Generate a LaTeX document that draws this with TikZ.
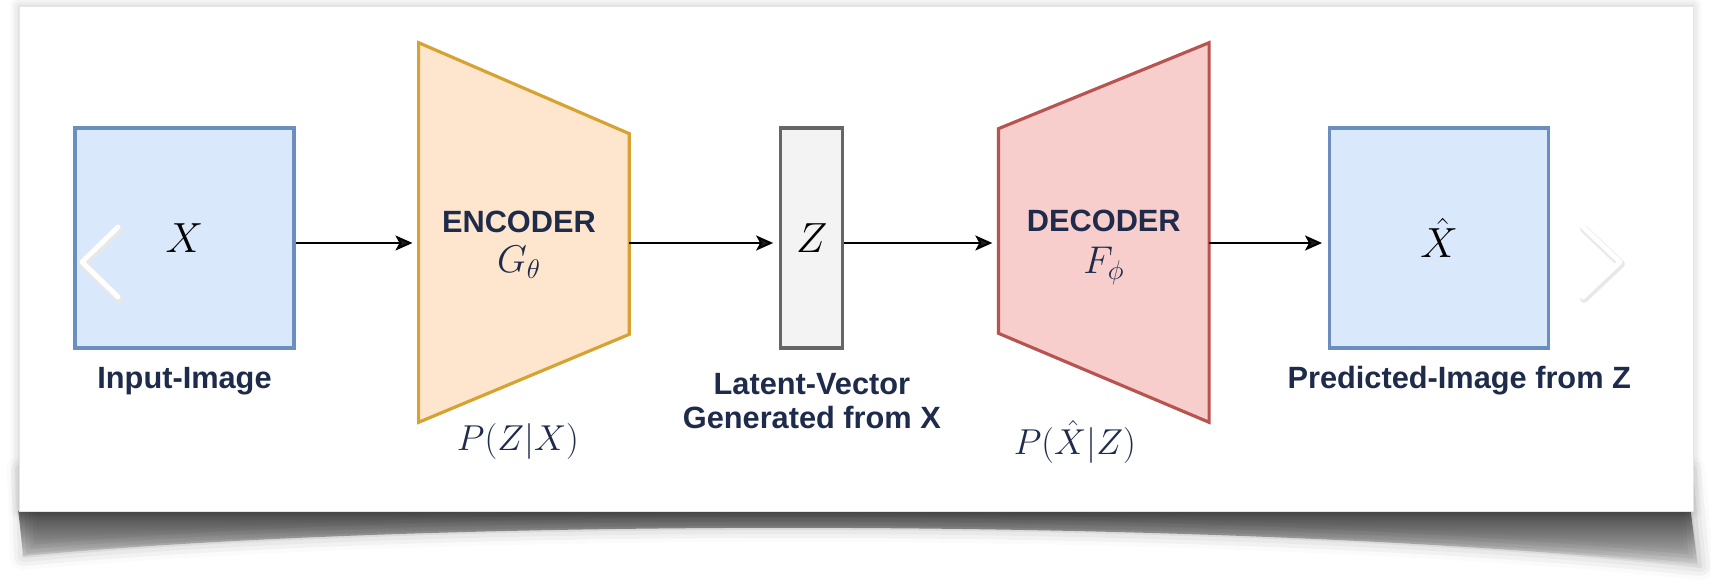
\RequirePackage{fix-cm}
\documentclass[tikz,border=0pt]{standalone}
\usepackage{fontspec}
\newfontfamily\labelfont{Liberation Sans}
\usepackage{tikz}
\usetikzlibrary{positioning}
\usetikzlibrary{arrows.meta,shadows.blur,fadings}

\definecolor{navy}{HTML}{1E2B4B}
\definecolor{imgline}{HTML}{6C8EBF}
\definecolor{imgfill}{HTML}{DAE8FC}
\definecolor{encline}{HTML}{D6A232}
\definecolor{encfill}{HTML}{FDE6CD}
\definecolor{decline}{HTML}{B85450}
\definecolor{decfill}{HTML}{F8CECC}
\definecolor{vecline}{HTML}{666666}
\definecolor{vecfill}{HTML}{F3F3F3}
\newcommand{\capfont}{\labelfont\bfseries\fontsize{17.5}{19.5}\selectfont}
\tikzfading[name=cardfade,top color=transparent!40,middle color=transparent!100,bottom color=transparent!100]

\begin{document}
\begin{tikzpicture}[x=0.02cm,y=-0.02cm,on grid,auto,
		>={Stealth[length=0.34cm,width=0.3cm,inset=0.08cm]},
		panel/.style={fill=white,draw=black!10,line width=0.4pt},
		imgbox/.style={draw=imgline,fill=imgfill,line width=1.8pt,minimum width=4.38cm,minimum height=4.4cm,font=\fontsize{24}{28}\selectfont},
		vecbox/.style={draw=vecline,fill=vecfill,line width=1.8pt,minimum width=1.24cm,minimum height=4.4cm,font=\fontsize{24}{28}\selectfont},
		coder/.style={rectangle,inner sep=0pt,minimum width=4.2cm,minimum height=7.58cm},
		coder_txt/.style={text=navy,align=center,font=\fontsize{22}{25}\selectfont},
		caption/.style={text=navy,align=center,font=\capfont},
		prob/.style={text=navy,font=\fontsize{20.5}{24}\selectfont},
		flow/.style={->,line width=1.1pt,shorten >=3.5pt},
		chev/.style={white,line width=2.8pt,line cap=round,line join=round},
		chev_shade/.style={black!9,line width=4.4pt,line cap=round,line join=round}]
		\useasboundingbox (0,0) rectangle (1711,587);
		
		% card and its shadow
		\path[blur shadow={shadow xshift=0pt,shadow yshift=0pt,shadow blur radius=8pt,shadow opacity=28}] (21,470) -- (1691,470) -- (1700,566) .. controls (1250,518) and (450,516) .. (24,556) -- cycle;
		\fill[black,path fading=cardfade] (19,511) -- (1693,511) -- (1700,566) .. controls (1250,518) and (450,516) .. (24,556) -- cycle;
		\filldraw[panel,blur shadow={shadow xshift=0pt,shadow yshift=0pt,shadow blur radius=5pt,shadow opacity=22}] (19,6) rectangle (1693,511);
		
		\node[imgbox] (img_in) at (184.5,238) {$X$};
		\node[vecbox] (lat) [right=12.55cm of img_in] {$Z$};
		\node[imgbox] (img_out) [right=12.55cm of lat] {$\hat{X}$};
		
		\node[coder] (enc) [above right=0.11cm and 6.79cm of img_in] {};
		\filldraw[draw=encline,fill=encfill,line width=1.8pt] (enc.north west) -- ([yshift=-1.82cm]enc.north east) -- ([yshift=1.76cm]enc.south east) -- (enc.south west) -- cycle;
		\node[coder] (dec) [above right=0.11cm and 5.84cm of lat] {};
		\filldraw[draw=decline,fill=decfill,line width=1.8pt] (dec.north east) -- (dec.south east) -- ([yshift=1.78cm]dec.south west) -- ([yshift=-1.72cm]dec.north west) -- cycle;
		
		\node[coder_txt] (enc_txt) [below left=0.24cm and 0.1cm of enc] {{\capfont ENCODER}\\[-2pt] $G_\theta$};
		\node[coder_txt] (dec_txt) [below=0.3cm of dec] {{\capfont DECODER}\\[-1pt] $F_\phi$};
		\node[prob] (p_enc) [below left=4.19cm and 0.12cm of enc] {$P(Z|X)$};
		\node[prob] (p_dec) [below left=4.19cm and 0.58cm of dec] {$P(\hat{X}|Z)$};
		
		\node[caption] (cap_in) [below=2.86cm of img_in] {Input-Image};
		\node[caption] (cap_lat) [below=3.26cm of lat] {Latent-Vector\\Generated from X};
		\node[caption] (cap_out) [below right=2.86cm and 0.4cm of img_out] {Predicted-Image from Z};
		
		\coordinate (mid) at (0,243);
		\path[flow]
		(img_in.east |- mid) edge (enc.west |- mid)
		(enc.east |- mid) edge (lat.west |- mid)
		(lat.east |- mid) edge (dec.west |- mid)
		(dec.east |- mid) edge (img_out.west |- mid);
		
		% carousel arrows
		\draw[chev_shade] (119,229) -- (83,264) -- (119,299);
		\draw[chev] (118,227) -- (82,262) -- (118,297);
		\draw[chev_shade] (1584,229) -- (1621,264) -- (1584,299);
		\draw[chev] (1583,227) -- (1620,262) -- (1583,297);
	\end{tikzpicture}
\end{document}
